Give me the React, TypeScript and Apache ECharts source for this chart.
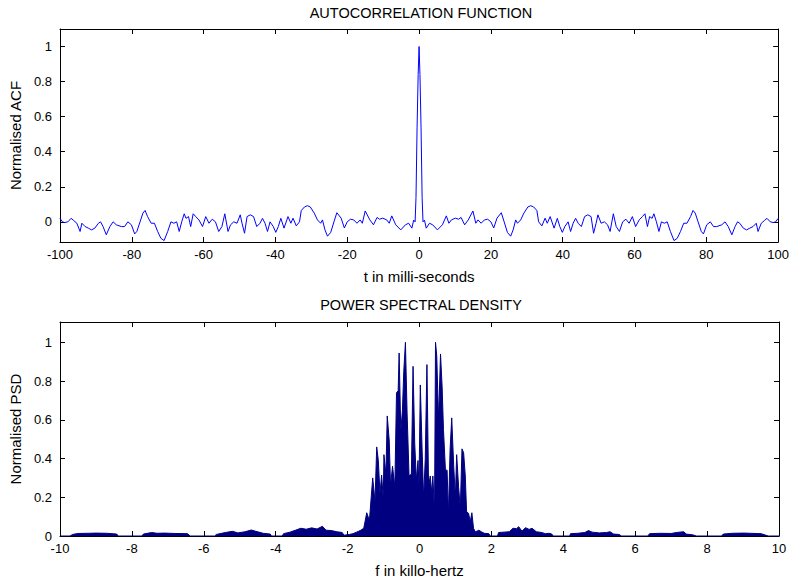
import React, { useEffect, useRef } from "react";
import * as echarts from "echarts";

// ---- ACF (symmetric): read for lag >= 0, mirrored for negative lags ----
const acfLagHalf = [
  0, 0.25, 0.55, 0.85, 1.1, 1.5, 2.0, 2.9, 3.8, 5.1, 6.5, 7.6, 8.3, 9.0, 10.1, 11.0, 11.7, 12.7, 13.7, 15.0,
  15.8, 16.4, 17.3, 18.2, 19.1, 20.0, 20.8, 21.7, 22.9, 23.7, 24.6, 25.5, 26.2, 26.9, 27.4, 28.3, 29.2, 30.3,
  31.1, 31.9, 32.8, 33.3, 34.2, 35.1, 35.7, 36.5, 37.6, 38.5, 39.2, 39.9, 40.6, 41.5, 42.2, 42.9, 43.6, 44.3,
  45.2, 46.1, 47.0, 47.9, 48.6, 49.3, 49.8, 50.7, 51.6, 52.5, 53.2, 54.1, 54.9, 55.8, 56.7, 57.6, 58.5, 59.4,
  60.3, 61.3, 62.2, 62.9, 63.6, 64.2, 64.9, 65.4, 66.1, 66.8, 67.5, 68.3, 69.1, 70.0, 71.0, 71.9, 72.8, 73.7,
  74.6, 75.6, 76.3, 76.9, 77.7, 78.6, 79.2, 80.1, 81.1, 82.0, 82.9, 84.3, 85.2, 86.1, 87.1, 88.0, 88.7, 89.3,
  90.3, 91.2, 92.1, 93.0, 93.9, 94.4, 95.3, 96.2, 96.9, 97.8, 98.7, 99.3, 100,
];
const acfValueHalf = [
  1.0, 0.84, 0.54, 0.14, 0.0, 0.01, -0.036, -0.008, -0.017, -0.046, -0.017, 0.034, -0.008, 0.011, 0.021, 0.015, 0.025, -0.017, 0.011, 0.062,
  -0.008, 0.011, -0.008, 0.011, 0.015, 0.0, -0.035, 0.021, 0.052, 0.0, -0.06, -0.082, -0.046, 0.011, -0.008, 0.011, 0.05, 0.085,
  0.092, 0.085, 0.065, 0.0, -0.023, 0.021, -0.008, 0.03, -0.036, 0.02, -0.027, -0.06, -0.027, 0.0, -0.055, -0.008, 0.02, -0.008,
  -0.027, 0.03, 0.04, 0.03, -0.065, -0.008, 0.04, -0.008, 0.0, -0.017, -0.055, 0.046, -0.027, -0.055, 0.0, 0.015, -0.008, 0.03,
  -0.027, 0.011, 0.03, 0.046, -0.027, 0.03, 0.02, 0.046, 0.0, -0.055, 0.0, -0.008, 0.0, -0.055, -0.107, -0.094, -0.055, -0.008,
  -0.008, 0.03, 0.065, 0.05, 0.0, -0.055, -0.069, -0.017, 0.0, -0.027, -0.027, -0.017, 0.0, -0.027, -0.074, -0.027, 0.0, -0.008,
  -0.036, -0.046, -0.036, -0.027, -0.008, -0.055, -0.008, 0.008, 0.02, 0.0, -0.004, 0.0, 0.02,
];

// ---- PSD ----
const psdFreq = [
  -10, -9.72, -9.65, -9.5, -9.2, -9.0, -8.7, -8.42, -8.38, -7.72, -7.68, -7.45, -7.3, -7.1, -6.8, -6.45, -6.38,
  -5.7, -5.65, -5.4, -5.2, -5.05, -4.85, -4.68, -4.55, -4.35, -4.15, -4.12, -3.82, -3.78, -3.6, -3.45, -3.3,
  -3.15, -3.0, -2.85, -2.7, -2.6, -2.45, -2.3, -2.15, -2.1, -1.95, -1.85, -1.75, -1.65, -1.55,
  -1.467, -1.393, -1.301, -1.237, -1.19, -1.145, -1.099, -1.053, -1.007, -0.989, -0.934, -0.897, -0.841, -0.805,
  -0.75, -0.685, -0.639, -0.593, -0.566, -0.52, -0.474, -0.437, -0.391, -0.345, -0.29, -0.226, -0.179, -0.133,
  -0.087, -0.041, -0.014, 0.023, 0.069, 0.115, 0.161, 0.207, 0.253, 0.299, 0.345, 0.372, 0.418, 0.446, 0.48,
  0.53, 0.585, 0.63, 0.667, 0.722, 0.768, 0.805, 0.851, 0.897, 0.952, 0.998, 1.034, 1.089, 1.136, 1.182, 1.228,
  1.274, 1.31, 1.365, 1.411, 1.457, 1.503,
  1.55, 1.6, 1.65, 1.72, 1.8, 1.93, 1.97, 2.17, 2.2, 2.35, 2.5, 2.6, 2.7, 2.76, 2.85, 2.95, 3.05, 3.13, 3.25,
  3.4, 3.5, 3.6, 3.68, 3.72, 4.18, 4.2, 4.4, 4.6, 4.7, 4.8, 5.0, 5.2, 5.3, 5.4, 5.55, 5.62, 6.35, 6.4, 6.7, 7.0,
  7.15, 7.35, 7.42, 7.6, 7.7, 8.4, 8.45, 8.7, 9.0, 9.2, 9.5, 9.62, 9.7, 10,
];
const psdValue = [
  0, 0, 0.008, 0.013, 0.014, 0.015, 0.014, 0.01, 0, 0, 0.01, 0.018, 0.014, 0.015, 0.013, 0.012, 0,
  0, 0.008, 0.018, 0.024, 0.016, 0.022, 0.031, 0.024, 0.014, 0.01, 0, 0, 0.012, 0.02, 0.03, 0.04,
  0.035, 0.042, 0.036, 0.05, 0.03, 0.028, 0.022, 0.018, 0.004, 0.008, 0.012, 0.02, 0.028, 0.04,
  0.12, 0.08, 0.3, 0.18, 0.46, 0.39, 0.22, 0.315, 0.19, 0.42, 0.32, 0.62, 0.49, 0.26,
  0.36, 0.255, 0.74, 0.75, 0.945, 0.54, 0.65, 0.85, 1.0, 0.635, 0.31, 0.32, 0.876, 0.48,
  0.29, 0.39, 0.255, 0.78, 0.47, 0.195, 0.4, 0.885, 0.255, 0.31, 0.22, 0.31, 0.12, 1.0, 0.93,
  0.6, 0.94, 0.77, 0.55, 0.34, 0.34, 0.11, 0.445, 0.61, 0.36, 0.2, 0.42, 0.25, 0.143, 0.45, 0.43,
  0.31, 0.126, 0.117, 0.074, 0.12, 0.04,
  0.022, 0.025, 0.03, 0.022, 0.014, 0.012, 0, 0, 0.018, 0.02, 0.022, 0.04, 0.038, 0.048, 0.025, 0.043, 0.034, 0.04, 0.022,
  0.018, 0.012, 0.014, 0.01, 0, 0, 0.012, 0.014, 0.018, 0.028, 0.02, 0.016, 0.018, 0.022, 0.01, 0.008, 0, 0, 0.012, 0.014, 0.013,
  0.018, 0.022, 0.01, 0.006, 0, 0, 0.01, 0.014, 0.015, 0.014, 0.012, 0.005, 0, 0,
];

const yTicks = [0, 0.2, 0.4, 0.6, 0.8, 1];

const FONT = "'Liberation Sans', Arial, sans-serif";

export default function App() {
  const ref = useRef<HTMLDivElement>(null);

  useEffect(() => {
    if (!ref.current) return;
    const chart = echarts.init(ref.current, undefined, { renderer: "svg" });

    const acfData: number[][] = [];
    for (let i = acfLagHalf.length - 1; i >= 1; i--) acfData.push([-acfLagHalf[i], acfValueHalf[i]]);
    for (let i = 0; i < acfLagHalf.length; i++) acfData.push([acfLagHalf[i], acfValueHalf[i]]);
    const psdData = psdFreq.map((f, i) => [f, psdValue[i]]);

    const axisLine = { show: true, onZero: false, lineStyle: { color: "#000", width: 1 } };
    const label = { color: "#000", fontSize: 13, fontFamily: FONT };
    const nameStyle = { color: "#000", fontSize: 15, fontFamily: FONT };

    const xAxes = (grid: number, min: number, max: number, interval: number, name: string) => [
      {
        type: "value", gridIndex: grid, min, max, interval, position: "bottom",
        axisLine, splitLine: { show: false },
        axisTick: { inside: true, length: 5, lineStyle: { color: "#000" } },
        axisLabel: { ...label, margin: 6 },
        name, nameLocation: "middle", nameGap: 27, nameTextStyle: nameStyle,
      },
      {
        type: "value", gridIndex: grid, min, max, interval, position: "top",
        axisLine, splitLine: { show: false },
        axisTick: { inside: true, length: 5, lineStyle: { color: "#000" } },
        axisLabel: { show: false },
      },
    ];
    const yAxes = (grid: number, min: number, max: number, name: string) => [
      {
        type: "value", gridIndex: grid, min, max, position: "left",
        axisLine, splitLine: { show: false },
        axisTick: { inside: true, length: 5, customValues: yTicks, lineStyle: { color: "#000" } },
        axisLabel: { ...label, margin: 8, customValues: yTicks },
        name, nameLocation: "middle", nameGap: 33, nameTextStyle: nameStyle,
      },
      {
        type: "value", gridIndex: grid, min, max, position: "right",
        axisLine, splitLine: { show: false },
        axisTick: { inside: true, length: 5, customValues: yTicks, lineStyle: { color: "#000" } },
        axisLabel: { show: false },
      },
    ];

    chart.setOption({
      animation: false,
      backgroundColor: "#fff",
      title: [
        { text: "AUTOCORRELATION FUNCTION", left: 416, top: 0, textAlign: "center",
          textStyle: { color: "#000", fontSize: 14.5, fontWeight: "normal", fontFamily: FONT } },
        { text: "POWER SPECTRAL DENSITY", left: 416, top: 292, textAlign: "center",
          textStyle: { color: "#000", fontSize: 14.5, fontWeight: "normal", fontFamily: FONT } },
      ],
      grid: [
        { left: 54, right: 13, top: 29, height: 213 },
        { left: 54, right: 13, top: 322, height: 214 },
      ],
      xAxis: [
        ...xAxes(0, -100, 100, 20, "t in milli-seconds"),
        ...xAxes(1, -10, 10, 2, "f in killo-hertz"),
      ],
      yAxis: [
        ...yAxes(0, -0.115, 1.1, "Normalised ACF"),
        ...yAxes(1, 0, 1.105, "Normalised PSD"),
      ],
      series: [
        {
          type: "line", xAxisIndex: 0, yAxisIndex: 0, data: acfData,
          showSymbol: false, symbol: "none",
          lineStyle: { color: "#0000ff", width: 1 },
        },
        {
          type: "line", xAxisIndex: 2, yAxisIndex: 2, data: psdData,
          showSymbol: false, symbol: "none",
          lineStyle: { color: "#000080", width: 1 },
          areaStyle: { color: "#000080", opacity: 1 },
        },
      ],
    });

    return () => chart.dispose();
  }, []);

  return (
    <div
      ref={ref}
      style={{ position: "fixed", left: 0, top: 0, width: 792, height: 581, background: "#fff" }}
    />
  );
}
